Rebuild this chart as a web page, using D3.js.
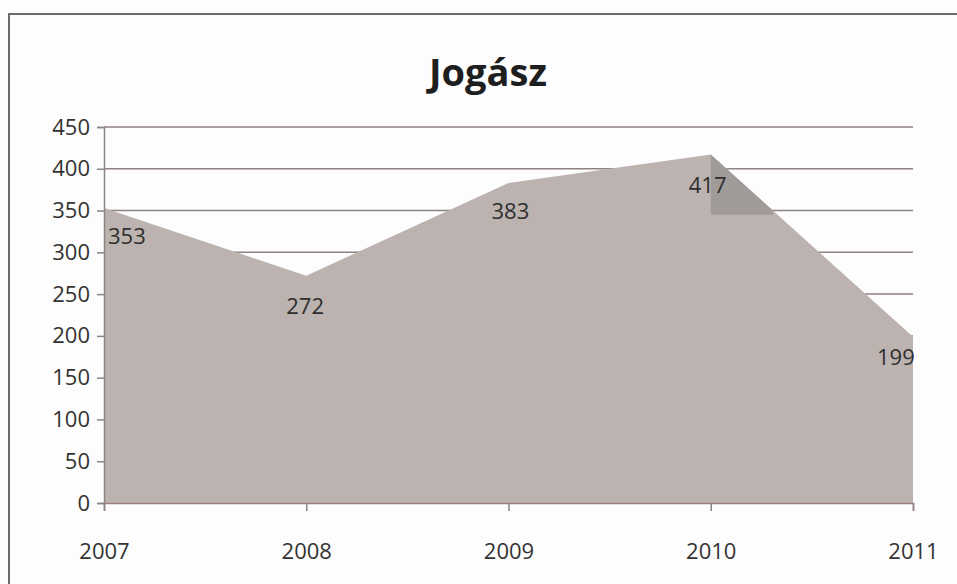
<!DOCTYPE html>
<html><head><meta charset="utf-8">
<script src="https://cdn.jsdelivr.net/npm/d3@7"></script>
<style>
body{margin:0;background:#fdfdfd;}
svg{display:block;}
text{font-family:"Open Sans","Noto Sans",sans-serif;}
</style></head>
<body>
<svg id="chart" width="957" height="584"></svg>
<script>
const title = "Jogász";
const categories = ["2007","2008","2009","2010","2011"];
const values = [353, 272, 383, 417, 199];
const yTicks = [0,50,100,150,200,250,300,350,400,450];

const svg = d3.select("#chart");
const W = 957, H = 584;
const m = {left:104, right:957-913, top:127, bottom:584-503};

svg.append("rect").attr("x",0).attr("y",0).attr("width",W).attr("height",H).attr("fill","#fdfdfd");
// chart frame
svg.append("rect").attr("x",9).attr("y",14).attr("width",W+20).attr("height",H+20)
  .attr("fill","none").attr("stroke","#6e6868").attr("stroke-width",2);

const x = d3.scalePoint().domain(categories).range([m.left, W-m.right]);
const y = d3.scaleLinear().domain([0,450]).range([H-m.bottom, m.top]);

// gridlines
svg.append("g").selectAll("line").data(yTicks.filter(d=>d>0)).join("line")
  .attr("x1",m.left).attr("x2",W-m.right)
  .attr("y1",d=>y(d)).attr("y2",d=>y(d))
  .attr("stroke","#8f8282").attr("stroke-width",1.5);

// area
const area = d3.area().x((d,i)=>x(categories[i])).y0(y(0)).y1(d=>y(d));
svg.append("defs").append("clipPath").attr("id","ac").append("path").attr("d",area(values));
svg.append("path").attr("d",area(values)).attr("fill","#bcb3b1");

// darker label patch near max point
const iMax = values.indexOf(d3.max(values));
svg.append("rect").attr("clip-path","url(#ac)")
  .attr("x",x(categories[iMax])).attr("y",y(values[iMax]))
  .attr("width",62).attr("height",y(345)-y(values[iMax]))
  .attr("fill","#a09a99");

// y axis
const yAxis = svg.append("g").attr("transform",`translate(${m.left},0)`)
  .call(d3.axisLeft(y).tickValues(yTicks).tickSize(7).tickPadding(7));
yAxis.select(".domain").attr("stroke","#8a8484").attr("stroke-width",1.5);
yAxis.selectAll(".tick line").attr("stroke","#8a8484").attr("stroke-width",1.5);
yAxis.selectAll("text").attr("font-size",22).attr("fill","#333");

// x axis
const xAxis = svg.append("g").attr("transform",`translate(0,${y(0)})`)
  .call(d3.axisBottom(x).tickSize(8).tickPadding(32));
xAxis.select(".domain").attr("stroke","#a07c7c").attr("stroke-width",1.5);
xAxis.selectAll(".tick line").attr("stroke","#8a8484").attr("stroke-width",1.5);
xAxis.selectAll("text").attr("font-size",22).attr("fill","#333");

// data labels
const labelOffsets = [[4,36],[-20,38],[-17,36],[-22,38],[-36,28]];
svg.append("g").selectAll("text").data(values).join("text")
  .attr("x",(d,i)=>x(categories[i])+labelOffsets[i][0])
  .attr("y",(d,i)=>y(d)+labelOffsets[i][1])
  .attr("font-size",22).attr("fill","#2e2e2e")
  .text(d=>d);

// title
svg.append("text").attr("x",488).attr("y",86).attr("text-anchor","middle")
  .attr("font-size",38).attr("font-weight","bold").attr("fill","#1e1e1e")
  .text(title);
</script>
</body></html>
